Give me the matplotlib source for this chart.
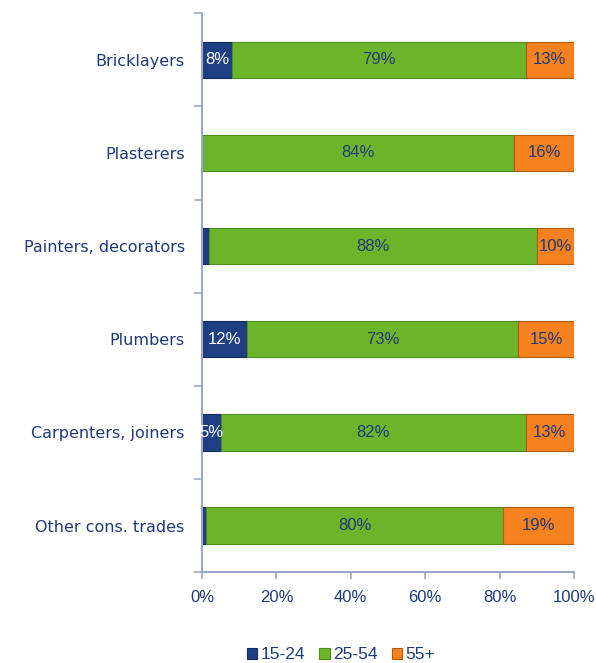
import numpy as np
import matplotlib.pyplot as plt

categories = ["Bricklayers", "Plasterers", "Painters, decorators",
              "Plumbers", "Carpenters, joiners", "Other cons. trades"]
age_15_24 = [8, 0, 2, 12, 5, 1]
age_25_54 = [79, 84, 88, 73, 82, 80]
age_55_plus = [13, 16, 10, 15, 13, 19]
series = ["15-24", "25-54", "55+"]

colors = ["#1F3F84", "#6CB52B", "#F5821F"]
edges = ["#122a5e", "#4f8a1c", "#b35a10"]
txt = "#1F3A78"
axcol = "#98A9C8"

plt.rcParams['font.family'] = ['DejaVu Sans']

fig = plt.figure(figsize=(5.96, 6.63), dpi=100)
ax = fig.add_axes([0.339, 0.137, 0.624, 0.843])

y = np.arange(len(categories))[::-1]
left = np.zeros(len(categories))
for k, vals in enumerate([age_15_24, age_25_54, age_55_plus]):
    vals = np.array(vals, dtype=float)
    ax.barh(y, vals, left=left, height=0.39, color=colors[k],
            edgecolor=edges[k], linewidth=0.8, label=series[k])
    for yi, l, v in zip(y, left, vals):
        if v >= 4:
            ax.text(l + v / 2, yi, f"{int(v)}%", ha='center', va='center',
                    fontsize=12, color='white' if k == 0 else txt,
                    family='Liberation Sans')
    left += vals

ax.set_xlim(0, 100)
ax.set_ylim(-0.5, len(categories) - 0.5)
ax.set_xticks(np.arange(0, 101, 20))
ax.set_xticklabels([f"{t}%" for t in range(0, 101, 20)], fontsize=12,
                   color=txt, family='Liberation Sans')
ax.set_yticks(y)
ax.set_yticklabels(categories, fontsize=11.5, color=txt)
ax.set_yticks(np.arange(-0.5, len(categories), 1), minor=True)
ax.tick_params(axis='y', which='major', length=0, pad=12.5)
ax.tick_params(axis='y', which='minor', length=6, color=axcol, width=1.2)
ax.tick_params(axis='x', length=5, color=axcol, width=1.2, pad=8)

for s in ['top', 'right']:
    ax.spines[s].set_visible(False)
for s in ['left', 'bottom']:
    ax.spines[s].set_color(axcol)
    ax.spines[s].set_linewidth(1.5)

leg = ax.legend(loc='upper center', bbox_to_anchor=(0.374, -0.113), ncol=3,
                frameon=False, prop={'family': 'Liberation Sans', 'size': 12.5},
                handlelength=0.6, handleheight=0.6, borderpad=0.2,
                handletextpad=0.2, columnspacing=0.8)
for t in leg.get_texts():
    t.set_color(txt)

fig.savefig("out.png", dpi=100)
